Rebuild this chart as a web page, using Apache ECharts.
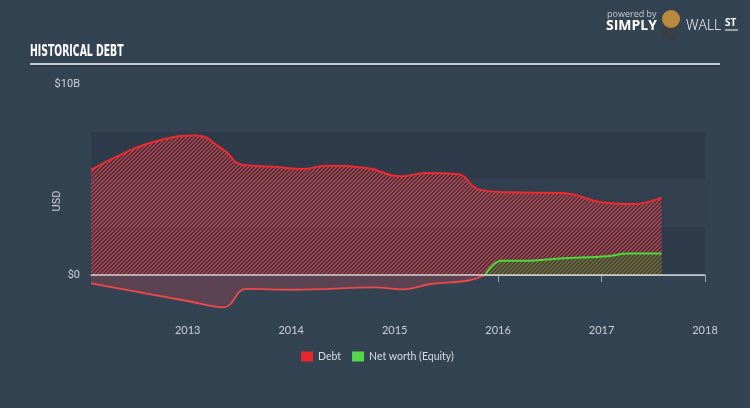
<!DOCTYPE html>
<html>
<head>
<meta charset="utf-8">
<script src="https://cdn.jsdelivr.net/npm/echarts@6/dist/echarts.min.js"></script>
<style>
html,body{margin:0;padding:0;background:#344352;}
#c{width:750px;height:408px;}
</style>
</head>
<body>
<div id="c"></div>
<script>
// ---- data ----
const debtYears = [2012.065, 2012.40, 2012.71, 2013.07, 2013.33, 2013.54, 2013.84, 2014.11, 2014.34, 2014.73, 2015.06, 2015.31, 2015.60, 2015.82, 2016.09, 2016.61, 2017.02, 2017.31, 2017.58];
const debtValues = [5.50, 6.42, 7.03, 7.31, 6.62, 5.76, 5.67, 5.55, 5.72, 5.60, 5.17, 5.34, 5.29, 4.47, 4.33, 4.29, 3.80, 3.72, 4.07];
const equityYears = [2012.065, 2013.0, 2013.35, 2013.56, 2014.03, 2014.81, 2015.08, 2015.35, 2015.70, 2015.874, 2016.03, 2016.32, 2016.59, 2017.06, 2017.25, 2017.58];
const equityValues = [-0.44, -1.36, -1.69, -0.73, -0.77, -0.65, -0.75, -0.47, -0.30, 0, 0.75, 0.75, 0.87, 0.98, 1.13, 1.13];
const yearTicks = [2013, 2014, 2015, 2016, 2017, 2018];
const yTicks = [0, 10];
const yTickLabels = ['$0', '$10B'];
const bandRanges = [[0, 2.5], [2.5, 5], [5, 7.5]];

// ---- patterns ----
function hatch(fg, bg) {
  const c = document.createElement('canvas');
  c.width = 4; c.height = 4;
  const ctx = c.getContext('2d');
  if (bg) { ctx.fillStyle = bg; ctx.fillRect(0, 0, 4, 4); }
  ctx.fillStyle = fg;
  for (let i = 0; i < 4; i++) {
    ctx.fillRect(i, 3 - i, 1, 1);
    ctx.fillRect(i, (6 - i) % 4, 1, 1);
  }
  return { image: c, repeat: 'repeat' };
}
const redHatch = hatch('rgba(222,58,62,0.85)', null);
const greenHatch = hatch('rgba(110,120,50,0.55)', 'rgba(60,110,40,0.35)');

const debtData = debtYears.map((x, i) => [x, debtValues[i]]);
const eqAll = equityYears.map((x, i) => [x, equityValues[i]]);
const eqNeg = eqAll.filter(p => p[1] <= 0);
const eqPos = eqAll.filter(p => p[1] >= 0);

const bandColors = ['#2e3b4a', '#323f4e', '#2e3b4a'];

const chart = echarts.init(document.getElementById('c'), null, { renderer: 'canvas' });
chart.setOption({
  backgroundColor: '#344352',
  animation: false,
  grid: { left: 91, right: 45, top: 84, bottom: 90 },
  xAxis: {
    type: 'value', min: 2012.065, max: 2018,
    axisLine: { show: true, lineStyle: { color: '#9aa7b5', width: 1.5 } },
    axisTick: { show: true, customValues: yearTicks, length: 7, lineStyle: { color: '#9aa7b5' } },
    axisLabel: { customValues: yearTicks, formatter: v => String(Math.round(v)), color: '#c9d0d8', fontSize: 11, margin: 7, fontFamily: 'Lato' },
    splitLine: { show: false }
  },
  yAxis: {
    type: 'value', min: -2.25, max: 10,
    name: 'USD', nameLocation: 'middle', nameGap: 28, nameMoveOverlap: false,
    nameTextStyle: { color: '#c9d0d8', fontSize: 11, fontFamily: 'Roboto' },
    axisLine: { show: false }, axisTick: { show: false },
    axisLabel: { customValues: yTicks, formatter: v => yTickLabels[yTicks.indexOf(v)] || '', color: '#c9d0d8', fontSize: 11, margin: 11, fontFamily: 'Roboto' },
    splitLine: { show: false }
  },
  legend: {
    left: 301, top: 351, padding: 0, icon: 'rect', itemWidth: 12, itemHeight: 10, itemGap: 11,
    textStyle: { color: '#d8dde3', fontSize: 10.5, fontFamily: 'Lato' },
    data: ['Debt', 'Net worth (Equity)']
  },
  series: [
    {
      name: 'bands', type: 'line', data: [], z: 1, silent: true,
      markArea: {
        silent: true,
        data: bandRanges.map((r, i) => [{ yAxis: r[0], itemStyle: { color: bandColors[i] } }, { yAxis: r[1] }])
      }
    },
    {
      name: 'Debt', type: 'line', data: debtData, z: 2,
      smooth: 0.5, showSymbol: false,
      lineStyle: { color: '#ef2a2f', width: 2 },
      itemStyle: { color: '#e7252a' },
      areaStyle: { color: redHatch, opacity: 1 }
    },
    {
      name: 'Net worth neg', type: 'line', data: eqNeg, z: 3,
      smooth: 0.4, showSymbol: false,
      lineStyle: { color: '#f0474d', width: 1.8 },
      itemStyle: { color: '#f0474d' },
      areaStyle: { color: '#5b4351', opacity: 1 }
    },
    {
      name: 'Net worth (Equity)', type: 'line', data: eqPos, z: 3,
      smooth: 0.4, showSymbol: false,
      lineStyle: { color: '#4cd93a', width: 2 },
      itemStyle: { color: '#52d84a' },
      areaStyle: { color: greenHatch, opacity: 1 }
    },
    {
      name: 'zero', type: 'line', data: [], z: 5, silent: true,
      markLine: {
        silent: true, symbol: ['none', 'none'], label: { show: false },
        lineStyle: { color: '#d6d6d6', width: 1.5, type: 'solid' },
        data: [{ yAxis: 0 }]
      }
    }
  ],
  graphic: [
    { type: 'text', x: 30, y: 45, scaleX: 0.62, style: { text: 'HISTORICAL DEBT', fill: '#ffffff', font: 'bold 15px "DejaVu Sans"' } },
    { type: 'line', shape: { x1: 30, y1: 64, x2: 720, y2: 64 }, style: { stroke: '#c3ccd5', lineWidth: 2 } },
    { type: 'line', shape: { x1: 30, y1: 66, x2: 720, y2: 66 }, style: { stroke: '#1f2a36', lineWidth: 1 } },
    { type: 'text', x: 607, y: 10, style: { text: 'powered by', fill: '#c3ccd5', font: '9px "Open Sans"' } },
    { type: 'text', x: 606, y: 19, style: { text: 'SIMPLY', fill: '#ffffff', font: 'bold 14px "Open Sans"' } },
    { type: 'circle', shape: { cx: 671, cy: 31, r: 9 }, style: { fill: '#3a3f47' } },
    { type: 'circle', shape: { cx: 671, cy: 19, r: 9 }, style: { fill: '#b98a3e' } },
    { type: 'text', x: 686, y: 19, style: { text: 'WALL', fill: '#ffffff', font: '300 14px "Open Sans"' } },
    { type: 'text', x: 725, y: 18, style: { text: 'ST', fill: '#ffffff', font: 'bold 10px "Open Sans"' } },
    { type: 'line', shape: { x1: 725, y1: 30, x2: 738, y2: 30 }, style: { stroke: '#ffffff', lineWidth: 1 } }
  ]
});
</script>
</body>
</html>
